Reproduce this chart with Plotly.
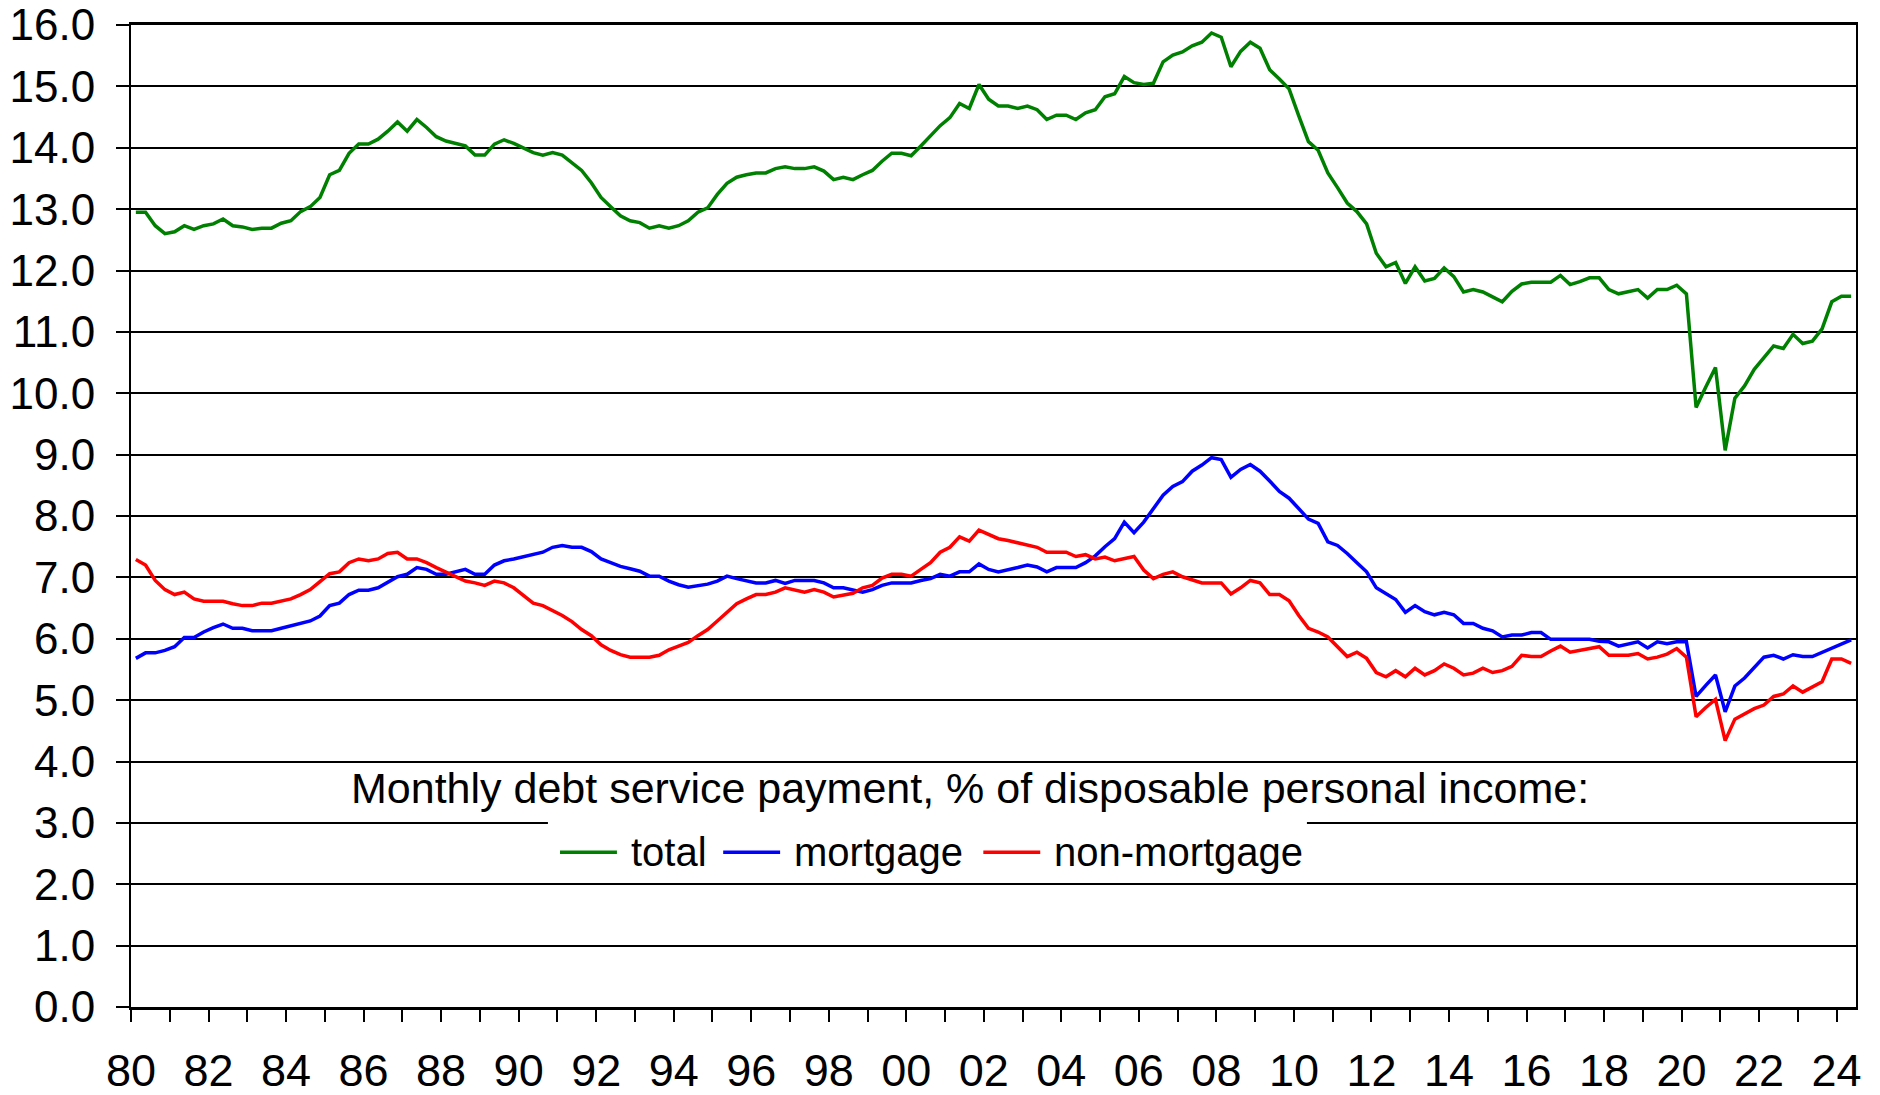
import plotly.graph_objects as go

# Quarterly series, 1980Q1 .. 2024Q2, % of disposable personal income
start_year = 1980

total = [
    12.95, 12.95, 12.73, 12.60, 12.63, 12.73, 12.67, 12.73, 12.76, 12.84,
    12.73, 12.71, 12.67, 12.69, 12.69, 12.77, 12.81, 12.96, 13.04, 13.19,
    13.56, 13.63, 13.91, 14.06, 14.06, 14.14, 14.27, 14.42, 14.27, 14.46,
    14.33, 14.18, 14.11, 14.07, 14.03, 13.88, 13.88, 14.06, 14.13, 14.07,
    14.00, 13.92, 13.88, 13.92, 13.88, 13.75, 13.63, 13.43, 13.19, 13.04,
    12.89, 12.81, 12.78, 12.69, 12.73, 12.69, 12.73, 12.81, 12.95, 13.02,
    13.24, 13.42, 13.52, 13.56, 13.59, 13.59, 13.66, 13.69, 13.66, 13.66,
    13.69, 13.62, 13.48, 13.52, 13.48, 13.56, 13.63, 13.78, 13.91, 13.91,
    13.87, 14.03, 14.20, 14.36, 14.49, 14.72, 14.64, 15.03, 14.79, 14.68,
    14.68, 14.64, 14.68, 14.62, 14.46, 14.53, 14.53, 14.46, 14.57, 14.62,
    14.83, 14.88, 15.16, 15.06, 15.03, 15.05, 15.40, 15.51, 15.56, 15.66,
    15.72, 15.87, 15.80, 15.32, 15.57, 15.72, 15.62, 15.27, 15.12, 14.96,
    14.52, 14.10, 13.96, 13.59, 13.35, 13.10, 12.96, 12.76, 12.28, 12.06,
    12.13, 11.79, 12.06, 11.83, 11.87, 12.04, 11.90, 11.65, 11.69, 11.65,
    11.57, 11.49, 11.66, 11.78, 11.81, 11.81, 11.81, 11.92, 11.77, 11.82,
    11.88, 11.88, 11.69, 11.62, 11.66, 11.69, 11.55, 11.69, 11.69, 11.76,
    11.62, 9.77, 10.10, 10.42, 9.07, 9.92, 10.12, 10.39, 10.58, 10.77,
    10.73, 10.96, 10.81, 10.85, 11.05, 11.49, 11.58, 11.58,
]

mortgage = [
    5.68, 5.77, 5.77, 5.81, 5.87, 6.02, 6.02, 6.11, 6.18, 6.24,
    6.17, 6.17, 6.13, 6.13, 6.13, 6.17, 6.21, 6.24, 6.29, 6.37,
    6.54, 6.58, 6.72, 6.79, 6.79, 6.83, 6.92, 7.01, 7.05, 7.16,
    7.13, 7.05, 7.05, 7.09, 7.13, 7.05, 7.05, 7.20, 7.27, 7.30,
    7.34, 7.37, 7.41, 7.49, 7.52, 7.49, 7.49, 7.42, 7.30, 7.24,
    7.18, 7.14, 7.10, 7.02, 7.02, 6.94, 6.88, 6.84, 6.87, 6.89,
    6.94, 7.02, 6.98, 6.95, 6.91, 6.91, 6.95, 6.90, 6.95, 6.95,
    6.95, 6.91, 6.83, 6.83, 6.80, 6.76, 6.80, 6.87, 6.91, 6.91,
    6.91, 6.95, 6.98, 7.05, 7.02, 7.09, 7.09, 7.22, 7.13, 7.09,
    7.12, 7.16, 7.20, 7.17, 7.09, 7.16, 7.16, 7.16, 7.24, 7.35,
    7.50, 7.63, 7.90, 7.73, 7.90, 8.11, 8.34, 8.48, 8.56, 8.73,
    8.83, 8.95, 8.92, 8.63, 8.76, 8.84, 8.73, 8.57, 8.40, 8.29,
    8.13, 7.95, 7.88, 7.58, 7.52, 7.39, 7.24, 7.09, 6.83, 6.73,
    6.64, 6.43, 6.54, 6.44, 6.39, 6.43, 6.39, 6.25, 6.25, 6.17,
    6.13, 6.03, 6.06, 6.06, 6.10, 6.10, 5.99, 5.99, 5.99, 5.99,
    5.99, 5.96, 5.95, 5.88, 5.92, 5.95, 5.85, 5.95, 5.92, 5.95,
    5.95, 5.06, 5.24, 5.41, 4.81, 5.23, 5.36, 5.52, 5.70, 5.73,
    5.67, 5.74, 5.71, 5.71, 5.78, 5.84, 5.92, 5.98,
]

non_mortgage = [
    7.29, 7.20, 6.95, 6.80, 6.72, 6.76, 6.65, 6.61, 6.61, 6.61,
    6.57, 6.54, 6.54, 6.58, 6.58, 6.61, 6.65, 6.72, 6.80, 6.93,
    7.06, 7.09, 7.24, 7.30, 7.27, 7.30, 7.39, 7.41, 7.30, 7.30,
    7.24, 7.16, 7.09, 7.01, 6.94, 6.91, 6.87, 6.94, 6.91, 6.83,
    6.71, 6.58, 6.54, 6.46, 6.38, 6.28, 6.15, 6.05, 5.90, 5.81,
    5.74, 5.70, 5.70, 5.70, 5.73, 5.82, 5.88, 5.94, 6.05, 6.15,
    6.29, 6.43, 6.57, 6.65, 6.72, 6.72, 6.76, 6.83, 6.80, 6.76,
    6.80, 6.76, 6.68, 6.71, 6.74, 6.83, 6.87, 6.99, 7.05, 7.05,
    7.02, 7.13, 7.24, 7.41, 7.49, 7.66, 7.59, 7.77, 7.70, 7.63,
    7.60, 7.56, 7.53, 7.49, 7.41, 7.41, 7.41, 7.34, 7.37, 7.30,
    7.33, 7.27, 7.30, 7.34, 7.12, 6.98, 7.05, 7.09, 7.01, 6.96,
    6.91, 6.91, 6.91, 6.73, 6.83, 6.95, 6.91, 6.72, 6.72, 6.62,
    6.38, 6.17, 6.11, 6.03, 5.86, 5.71, 5.78, 5.68, 5.45, 5.38,
    5.48, 5.38, 5.52, 5.41, 5.48, 5.59, 5.52, 5.41, 5.44, 5.52,
    5.45, 5.48, 5.55, 5.73, 5.71, 5.71, 5.80, 5.88, 5.78, 5.81,
    5.85, 5.87, 5.73, 5.73, 5.73, 5.76, 5.67, 5.70, 5.75, 5.84,
    5.70, 4.73, 4.88, 5.01, 4.34, 4.69, 4.77, 4.86, 4.92, 5.06,
    5.10, 5.23, 5.13, 5.21, 5.30, 5.67, 5.67, 5.60,
]

tick_years = list(range(1980, 2025))
tick_labels = [f"{y % 100:02d}" if y % 2 == 0 else "" for y in tick_years]

series_names = ["total", "mortgage", "non-mortgage"]
series_colors = ["#008000", "#0000ff", "#ff0000"]

legend_title = "Monthly debt service payment, % of disposable personal income:"

# each quarter sits in the middle of its slot, like an Excel category axis
quarter_x = [start_year + (i + 0.5) / 4 for i in range(len(total))]

FONT = "Liberation Sans, Arial, sans-serif"

fig = go.Figure()
for name, values, color in zip(series_names, [total, mortgage, non_mortgage], series_colors):
    fig.add_trace(
        go.Scatter(
            x=quarter_x,
            y=values,
            mode="lines",
            name=name,
            line={"color": color, "width": 3.5},
            showlegend=False,
        )
    )

# legend drawn by hand so the line samples get the long Excel look
box_x0, box_x1 = 0.2417, 0.6817
fig.add_shape(
    type="rect", xref="paper", yref="y", x0=box_x0, x1=box_x1, y0=2.06, y1=3.04,
    fillcolor="white", line={"width": 0}, layer="above",
)
legend_slots = [(0.0070, 0.0400, 0.0470), (0.1016, 0.1346, 0.1416), (0.2524, 0.2854, 0.2924)]
for (x0, x1, xt), name, color in zip(legend_slots, series_names, series_colors):
    fig.add_shape(
        type="line", xref="paper", yref="y", x0=box_x0 + x0, x1=box_x0 + x1, y0=2.52, y1=2.52,
        line={"color": color, "width": 3.5}, layer="above",
    )
    fig.add_annotation(
        xref="paper", yref="y", x=box_x0 + xt, y=2.52, text=name, showarrow=False,
        xanchor="left", yanchor="middle", font={"family": FONT, "size": 40, "color": "black"},
    )

fig.add_annotation(
    xref="paper", yref="y", x=0.4864, y=3.57, text=legend_title, showarrow=False,
    xanchor="center", yanchor="middle", font={"family": FONT, "size": 43, "color": "black"},
)

# page body keeps its 8px margin, so the figure is sized to the rest of the window
fig.update_layout(
    width=1872,
    height=1087,
    margin={"l": 123, "r": 24, "t": 17, "b": 88, "autoexpand": False},
    paper_bgcolor="white",
    plot_bgcolor="white",
    showlegend=False,
)
fig.update_xaxes(
    range=[1980, 2024.5],
    automargin=False,
    tickmode="array",
    tickvals=tick_years,
    ticktext=tick_labels,
    ticks="outside",
    ticklen=12,
    tickwidth=1.5,
    tickcolor="black",
    tickfont={"family": FONT, "size": 45, "color": "black"},
    ticklabelstandoff=10,
    ticklabeloverflow="allow",
    showgrid=False,
    zeroline=False,
    showline=True,
    mirror=True,
    linecolor="black",
    linewidth=2.5,
)
fig.update_yaxes(
    range=[0, 16],
    automargin=False,
    tickmode="linear",
    tick0=0,
    dtick=1,
    tickformat=".1f",
    ticks="outside",
    ticklen=13,
    tickwidth=2,
    tickcolor="black",
    tickfont={"family": FONT, "size": 44, "color": "black"},
    ticklabelstandoff=12,
    ticklabeloverflow="allow",
    showgrid=True,
    gridcolor="black",
    gridwidth=2,
    zeroline=False,
    showline=True,
    mirror=True,
    linecolor="black",
    linewidth=2,
)

fig.write_html("out.html")
